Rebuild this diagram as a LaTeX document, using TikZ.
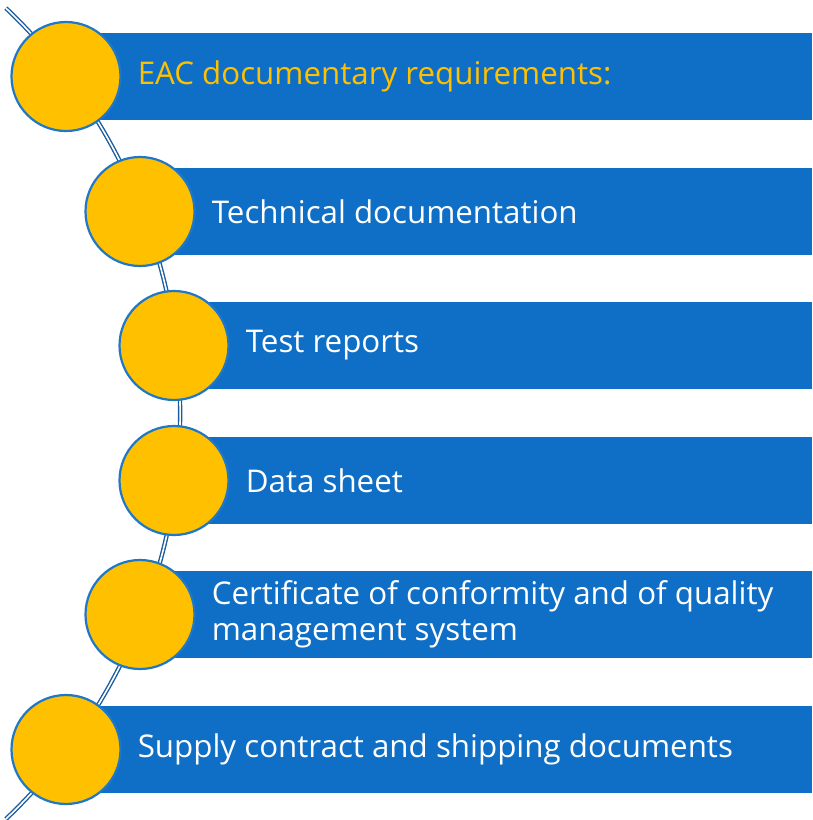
\documentclass[tikz,border=0pt]{standalone}
\usepackage{fontspec}
\setmainfont{Open Sans}
\usepackage{xcolor}
\usetikzlibrary{positioning}
\definecolor{barblue}{HTML}{0F6FC6}
\definecolor{dotgold}{HTML}{FFC000}
\definecolor{rimblue}{HTML}{1F77C8}
\definecolor{lineblue}{HTML}{1B5C9E}
\tikzset{
    bar/.style={fill=barblue, minimum height=87pt, inner sep=0pt, anchor=west},
    dot/.style={circle, draw=rimblue, line width=2.2pt, fill=dotgold, minimum size=109pt, inner sep=0pt},
    txt/.style={anchor=west, text=white, font=\fontsize{31.3}{36}\selectfont, align=left, inner sep=0pt},
    spine/.style={draw=lineblue, line width=1.4pt, double=white, double distance=1.6pt}}
\begin{document}
\begin{tikzpicture}[x=1pt,y=-1pt]
\useasboundingbox (0,0) rectangle (812,820);
%\draw (0,0) rectangle (812,820);
\coordinate (top) at (5.9,8.1);
\draw [spine] (top) arc (-46.5:46.5:559);
% bars
\node[bar, minimum width=746pt] (b1) at (66,76.5) {};
\node[bar, minimum width=672pt] (b2) at (140,211.5) {};
\node[bar, minimum width=638pt] (b3) at (174,345.5) {};
\node[bar, minimum width=638pt] (b4) at (174,480.5) {};
\node[bar, minimum width=672pt] (b5) at (140,614.5) {};
\node[bar, minimum width=746pt] (b6) at (66,749.5) {};
% circles
\node[dot] (c1) at (b1.west) {};
\node[dot] (c2) at (b2.west) {};
\node[dot] (c3) at (b3.west) {};
\node[dot] (c4) at (b4.west) {};
\node[dot] (c5) at (b5.west) {};
\node[dot] (c6) at (b6.west) {};
% labels
\node[txt, text=dotgold, right=16pt of c1] (t1) {EAC documentary requirements:};
\node[txt, right=16pt of c2] (t2) {Technical documentation};
\node[txt, right=16pt of c3] (t3) {Test reports};
\node[txt, right=16pt of c4] (t4) {Data sheet};
\node[txt, right=16pt of c5] (t5) {Certificate of conformity and of quality\\management system};
\node[txt, right=16pt of c6] (t6) {Supply contract and shipping documents};
\end{tikzpicture}
\end{document}
